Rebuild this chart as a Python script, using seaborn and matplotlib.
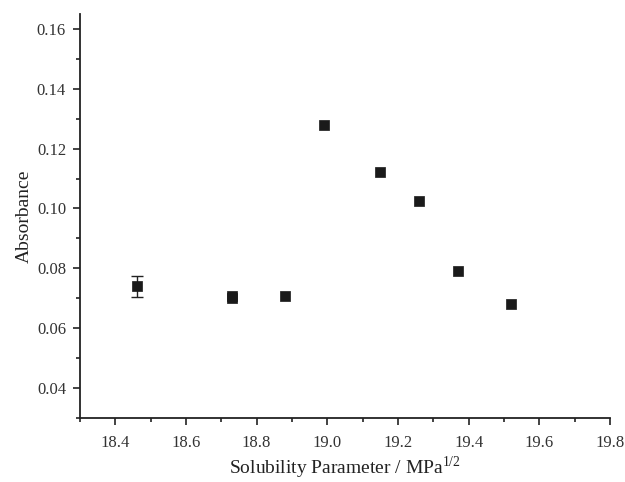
import pandas as pd
import numpy as np
import matplotlib
matplotlib.use("Agg")
import matplotlib.pyplot as plt
import seaborn as sns
from matplotlib.ticker import MultipleLocator

# values
solubility = [18.46, 18.73, 18.73, 18.88, 18.99, 19.15, 19.26, 19.37, 19.52]
absorbance = [0.0740, 0.0708, 0.0702, 0.0706, 0.1280, 0.1122, 0.1025, 0.0792, 0.0680]
error = [0.0035, 0, 0, 0, 0, 0, 0, 0, 0]

data = pd.DataFrame({"x": solubility, "y": absorbance, "err": error})

sns.set_style("ticks")
plt.rcParams['font.family'] = ['Liberation Serif', 'DejaVu Serif']
plt.rcParams['mathtext.fontset'] = 'custom'
plt.rcParams['mathtext.rm'] = 'Liberation Serif'

fig = plt.figure(figsize=(6.25, 4.82), dpi=100)
ax = fig.add_axes([0.128, 0.133, 0.848, 0.838])

e = data[data["err"] > 0]
ax.errorbar(e["x"], e["y"], yerr=e["err"], fmt="none", ecolor="#222222",
            elinewidth=1, capsize=4, capthick=1, zorder=2)
sns.scatterplot(x="x", y="y", data=data, marker="s", s=45, color="#1a1a1a",
                edgecolor="#1a1a1a", linewidth=0.5, ax=ax, zorder=3)

ax.set_xlim(18.3, 19.8)
ax.set_ylim(0.03, 0.165)
ax.xaxis.set_minor_locator(MultipleLocator(0.1))
ax.yaxis.set_minor_locator(MultipleLocator(0.01))
ax.set_xticks(np.arange(18.4, 19.81, 0.2))
ax.set_yticks(np.arange(0.04, 0.161, 0.02))
ax.xaxis.set_major_formatter(plt.FormatStrFormatter("%.1f"))
ax.yaxis.set_major_formatter(plt.FormatStrFormatter("%.2f"))

ax.tick_params(axis="both", which="major", direction="out", length=5, width=1.2,
               labelsize=12, colors="#222222", labelcolor="#333333")
ax.tick_params(axis="x", which="major", pad=7)
ax.tick_params(axis="y", which="major", pad=5)
ax.tick_params(axis="both", which="minor", direction="out", length=3, width=1.2,
               colors="#222222")
for side in ["left", "bottom"]:
    ax.spines[side].set_linewidth(1.3)
    ax.spines[side].set_color("#222222")
sns.despine(ax=ax)

ax.set_xlabel(r"Solubility Parameter / MPa$^{\mathregular{1/2}}$", fontsize=14,
              color="#222222", labelpad=3)
ax.set_ylabel("Absorbance", fontsize=14, color="#222222", labelpad=3)

fig.savefig("out.png", dpi=100)
